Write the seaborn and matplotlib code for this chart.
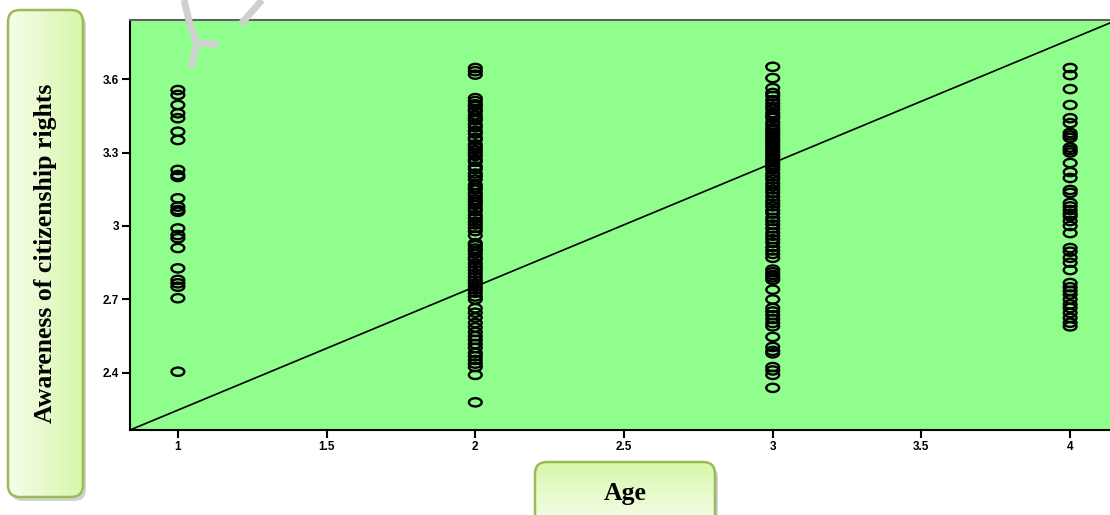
import numpy as np
import pandas as pd
import seaborn as sns
import matplotlib.pyplot as plt
from matplotlib.path import Path
from matplotlib.patches import FancyBboxPatch
from matplotlib.lines import Line2D
from matplotlib.colors import LinearSegmentedColormap
from matplotlib.transforms import Affine2D

# awareness scores, one list per age group
age1_vals = [3.555, 3.535, 3.494, 3.46, 3.44, 3.385, 3.351, 3.229, 3.208, 3.20,
             3.113, 3.079, 3.065, 3.058, 2.99, 2.963, 2.95, 2.91, 2.827, 2.78,
             2.766, 2.752, 2.705, 2.405]
age2_vals = [3.645, 3.632, 3.618, 3.522, 3.51, 3.497, 3.49, 3.476, 3.468, 3.452,
             3.44, 3.431, 3.414, 3.403, 3.388, 3.377, 3.36, 3.352, 3.333, 3.322,
             3.31, 3.298, 3.286, 3.271, 3.262, 3.243, 3.232, 3.214, 3.203, 3.19,
             3.168, 3.157, 3.148, 3.133, 3.121, 3.108, 3.097, 3.086, 3.072, 3.061,
             3.044, 3.032, 3.018, 3.006, 2.992, 2.979, 2.961, 2.93, 2.921, 2.908,
             2.899, 2.886, 2.871, 2.862, 2.846, 2.832, 2.82, 2.806, 2.791, 2.778,
             2.766, 2.752, 2.741, 2.727, 2.712, 2.70, 2.664, 2.646, 2.626, 2.604,
             2.586, 2.567, 2.55, 2.535, 2.518, 2.502, 2.482, 2.468, 2.453, 2.438,
             2.424, 2.392, 2.28]
age3_vals = [3.65, 3.604, 3.563, 3.543, 3.531, 3.514, 3.50, 3.488, 3.476, 3.461,
             3.45, 3.441, 3.424, 3.412, 3.40, 3.391, 3.38, 3.371, 3.36, 3.35,
             3.342, 3.331, 3.32, 3.31, 3.301, 3.29, 3.282, 3.27, 3.26, 3.251,
             3.24, 3.23, 3.214, 3.202, 3.19, 3.174, 3.161, 3.149, 3.136, 3.12,
             3.104, 3.092, 3.08, 3.064, 3.051, 3.033, 3.02, 3.006, 2.99, 2.973,
             2.96, 2.946, 2.932, 2.914, 2.90, 2.886, 2.87, 2.822, 2.811, 2.80,
             2.79, 2.78, 2.74, 2.70, 2.665, 2.651, 2.636, 2.62, 2.604, 2.59,
             2.547, 2.506, 2.49, 2.48, 2.424, 2.41, 2.392, 2.339]
age4_vals = [3.645, 3.616, 3.559, 3.494, 3.44, 3.42, 3.38, 3.37, 3.36, 3.32,
             3.31, 3.30, 3.257, 3.22, 3.196, 3.147, 3.135, 3.094, 3.08, 3.065,
             3.05, 3.04, 3.02, 3.00, 2.971, 2.91, 2.895, 2.87, 2.85, 2.82,
             2.767, 2.75, 2.735, 2.72, 2.70, 2.68, 2.665, 2.645, 2.625, 2.605,
             2.59]
ages = [1, 2, 3, 4]

# straight fit line, ends at the plot edges
fit_x = [0.839, 4.134]
fit_y = [2.167, 3.829]

x_ticks = [1, 1.5, 2, 2.5, 3, 3.5, 4]
x_labels = ["1", "1.5", "2", "2.5", "3", "3.5", "4"]
y_ticks = [2.4, 2.7, 3.0, 3.3, 3.6]
y_labels = ["2.4", "2.7", "3", "3.3", "3.6"]

rows = []
for a, vals in zip(ages, [age1_vals, age2_vals, age3_vals, age4_vals]):
    for v in vals:
        rows.append({"Age": a, "Awareness": v})
df = pd.DataFrame(rows)

W, H = 1110, 515
sns.set_style("white")
plt.rcParams["font.family"] = ["Liberation Sans", "DejaVu Sans"]
plt.rcParams["text.color"] = "black"

fig = plt.figure(figsize=(W / 100, H / 100), dpi=100)
ax = fig.add_axes([130 / W, 85 / H, 980 / W, 410 / H])
ax.set_facecolor("#8ffe8c")

# hollow flat ellipse marker like the SPSS one
ellipse = Path.unit_circle().transformed(Affine2D().scale(1.55, 1.0))
sns.scatterplot(data=df, x="Age", y="Awareness", marker=ellipse, s=85,
                facecolor="none", edgecolor="black", linewidth=1.7, ax=ax,
                zorder=3)
ax.plot(fit_x, fit_y, color="black", linewidth=1.2, zorder=2)

ax.set_xlim(fit_x[0], fit_x[1])
ax.set_ylim(fit_y[0], 3.841)
ax.set_xticks(x_ticks)
ax.set_xticklabels(x_labels)
ax.set_yticks(y_ticks)
ax.set_yticklabels(y_labels)
ax.tick_params(axis="both", direction="out", length=6, width=1.5,
               labelsize=8.5, color="black", labelcolor="black", pad=2,
               bottom=True, left=True)
for lab in ax.get_xticklabels() + ax.get_yticklabels():
    lab.set_fontweight("bold")
ax.set_xlabel("")
ax.set_ylabel("")
for side in ["left", "bottom"]:
    ax.spines[side].set_color("black")
    ax.spines[side].set_linewidth(1.5)
ax.spines["top"].set_color("#606060")
ax.spines["top"].set_linewidth(1.5)
ax.spines["right"].set_visible(False)

tr = fig.dpi_scale_trans
box_cmap = LinearSegmentedColormap.from_list("box", ["#f6fdec", "#d8f7aa"])


def label_box(x0, y0, w, h, text, rotation, horizontal):
    # x0, y0 in pixels from the lower left corner
    r = 12 / 100
    style = f"round,pad=0,rounding_size={r}"
    shadow = FancyBboxPatch((x0 / 100 + 0.03, y0 / 100 - 0.04), w / 100, h / 100,
                            boxstyle=style, fc="#999999", ec="none", alpha=0.45,
                            transform=tr, zorder=-2)
    fig.add_artist(shadow)
    bax = fig.add_axes([x0 / W, y0 / H, w / W, h / H])
    bax.set_zorder(-1)
    bax.patch.set_alpha(0)
    bax.axis("off")
    if horizontal:
        grad = np.linspace(0, 1, 100).reshape(1, -1)
    else:
        grad = np.linspace(1, 0, 100).reshape(-1, 1)
    im = bax.imshow(grad, extent=[0, 1, 0, 1], aspect="auto", cmap=box_cmap)
    clip = FancyBboxPatch((x0 / 100, y0 / 100), w / 100, h / 100,
                          boxstyle=style, transform=tr)
    im.set_clip_path(clip)
    edge = FancyBboxPatch((x0 / 100, y0 / 100), w / 100, h / 100,
                          boxstyle=style, fc="none", ec="#9bbb59", lw=1.8,
                          transform=tr, zorder=5)
    fig.add_artist(edge)
    fig.text((x0 + w / 2) / W, (y0 + h / 2) / H, text, rotation=rotation,
             ha="center", va="center", fontsize=18.5, fontweight="bold",
             color="black", family=["Liberation Serif", "DejaVu Serif"],
             zorder=6)


label_box(8, 18, 75, 487, "Awareness of citizenship rights", 90, True)
label_box(535, -10, 180, 63, "Age", 0, False)

# light grey watermark strokes at the top
wm = "#d0d0d0"
for xs, ys in [([184, 190, 197, 191], [0, 25, 43, 68]),
               ([197, 218], [43, 44]),
               ([262, 241], [0, 24])]:
    fig.add_artist(Line2D([x / W for x in xs], [(H - y) / H for y in ys],
                          color=wm, linewidth=5, solid_capstyle="butt",
                          transform=fig.transFigure, zorder=10))

fig.savefig("out.png", dpi=100)
